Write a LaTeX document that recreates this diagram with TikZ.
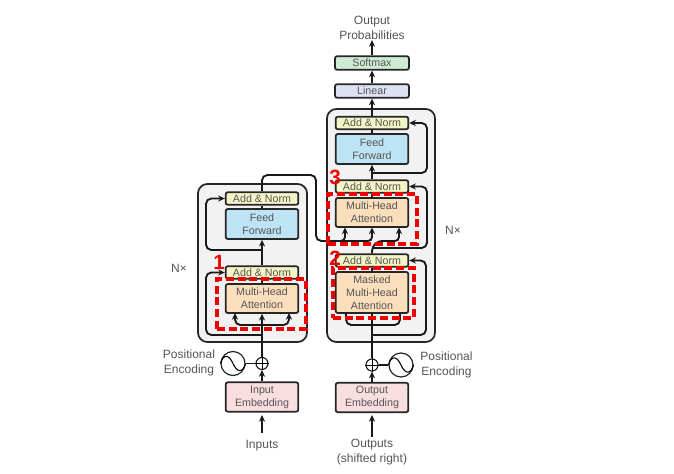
\documentclass[tikz,border=0pt]{standalone}
\usepackage{fontspec}
\setmainfont{Liberation Sans}
\usetikzlibrary{arrows.meta}
\definecolor{txt}{HTML}{555555}
\definecolor{normc}{HTML}{F4F5C6}
\definecolor{ffc}{HTML}{BEE3F4}
\definecolor{mhac}{HTML}{FBDFBC}
\definecolor{embc}{HTML}{F9DEE0}
\definecolor{softc}{HTML}{CFEBD5}
\definecolor{linc}{HTML}{DEE0F3}
\definecolor{outerc}{HTML}{F2F2F2}
\definecolor{marker}{HTML}{F00000}
\tikzset{
  blockbox/.style={draw=black!85,line width=1.3pt,rounded corners=1.6pt,inner sep=0pt,text=txt,align=center,font=\fontsize{8}{9.8}\selectfont,minimum width=54.5pt},
  normbox/.style={blockbox,fill=normc,minimum height=9.4pt},
  ffbox/.style={blockbox,fill=ffc,minimum height=22.5pt},
  mhabox/.style={blockbox,fill=mhac,minimum height=21.75pt},
  mmhabox/.style={blockbox,fill=mhac,minimum height=30.75pt},
  embbox/.style={blockbox,fill=embc,minimum height=22pt},
  softbox/.style={blockbox,fill=softc,minimum height=10.2pt,minimum width=55.5pt},
  linbox/.style={blockbox,fill=linc,minimum height=10.2pt,minimum width=55.5pt},
  outerbox/.style={draw=black!85,line width=1.3pt,fill=outerc,rounded corners=7pt,inner sep=0pt},
  label/.style={text=txt,align=center,font=\fontsize{9}{11.4}\selectfont,inner sep=0pt},
  conn/.style={draw=black!90,line width=1.4pt,rounded corners=4pt},
  arr/.style={conn,-{Stealth[length=5pt,width=4.6pt]}},
  redbox/.style={draw=marker,line width=2.3pt,dash pattern=on 6pt off 2.8pt},
  rednum/.style={text=marker,font=\fontsize{15.5}{16}\selectfont\bfseries,inner sep=0pt},
  addc/.style={circle,draw=black!85,line width=.9pt,minimum size=9pt,inner sep=0pt},
  posc/.style={circle,draw=black!85,line width=.9pt,minimum size=18pt,inner sep=0pt},
}
\begin{document}
\begin{tikzpicture}[x=0.75pt,y=-0.75pt]
\useasboundingbox (0,0) rectangle (674,474);
\fill[white] (0,0) rectangle (674,474);
% stacks
\node[outerbox,minimum width=81.75pt,minimum height=118.5pt] (encstack) at (252.5,263) {};
\node[outerbox,minimum width=81pt,minimum height=174.75pt] (decstack) at (381,225.5) {};
% encoder blocks
\node[normbox] (en2) at (262,198.5) {Add \& Norm};
\node[ffbox] (eff) at (262,224) {Feed\\Forward};
\node[normbox] (en1) at (262,272.5) {Add \& Norm};
\node[mhabox] (emha) at (262,298.5) {Multi-Head\\Attention};
\node[embbox] (eemb) at (262,397) {Input\\Embedding};
% decoder blocks
\node[normbox] (dn3) at (372,123) {Add \& Norm};
\node[ffbox] (dff) at (372,149) {Feed\\Forward};
\node[normbox] (dn2) at (372,186.5) {Add \& Norm};
\node[mhabox] (dmha) at (372,212.5) {Multi-Head\\Attention};
\node[normbox] (dn1) at (372,260.5) {Add \& Norm};
\node[mmhabox] (dmm) at (372,292.5) {Masked\\Multi-Head\\Attention};
\node[embbox] (demb) at (372,397.5) {Output\\Embedding};
\node[linbox] (lin) at (372,91) {Linear};
\node[softbox] (soft) at (372,63) {Softmax};
% labels
\node[label] (outprob) at (372,28) {Output\\Probabilities};
\node[label] (inp) at (262,445.5) {Inputs};
\node[label] (outp) at (372,452) {Outputs\\(shifted right)};
\node[label] (nxe) at (179,268) {N×};
\node[label] (nxd) at (453,230) {N×};
\node[label] (pe) at (189,363) {Positional\\Encoding};
\node[label] (pd) at (446.5,365) {Positional\\Encoding};
% positional encoding
\node[addc] (eadd) at (262,363.5) {};
\draw[line width=.7pt] (eadd.west)--(eadd.east) (eadd.north)--(eadd.south);
\node[posc] (epos) at (233,363.5) {};
\draw[line width=.8pt] (epos.west) .. controls +(3,-10) and +(-4,-9) .. (epos.center) .. controls +(4,9) and +(-3,10) .. (epos.east);
\node[addc] (dadd) at (372,365) {};
\draw[line width=.7pt] (dadd.west)--(dadd.east) (dadd.north)--(dadd.south);
\node[posc] (dpos) at (401,365) {};
\draw[line width=.8pt] (dpos.west) .. controls +(3,-10) and +(-4,-9) .. (dpos.center) .. controls +(4,9) and +(-3,10) .. (dpos.east);
\draw[conn] (epos)--(eadd);
\draw[conn] (dpos)--(dadd);
% encoder connectors
\coordinate (ein) at (262,433);
\draw[arr] (ein)--(262,415);
\draw[arr] (eemb.north)--(eadd.south);
\draw[arr] (eadd.north)--(emha.south);
\draw[conn] (emha.north)--(en1.south);
\draw[arr] (en1.north)--(eff.south);
\draw[conn] (eff.north)--(en2.south);
\coordinate (ea) at (262,335);
\coordinate (eb) at (206,335);
\draw[arr] (ea)--(eb)--(eb|-en1.west)--(en1.west);
\coordinate (ec) at (262,250);
\coordinate (ed) at (206,250);
\draw[arr] (ec)--(ed)--(ed|-en2.west)--(en2.west);
\coordinate (ee) at (235,325);
\coordinate (ef) at (289,325);
\draw[conn,{Stealth[length=5pt,width=4.6pt]}-{Stealth[length=5pt,width=4.6pt]}] (235,313)--(ee)--(ef)--(289,313);
% encoder to decoder
\coordinate (t1) at (262,175);
\coordinate (t2) at (316,175);
\coordinate (t3) at (316,241);
\coordinate (t4) at (345,241);
\coordinate (t5) at (372,241);
\draw[conn] (en2.north)--(t1)--(t2)--(t3)--(t4);
\draw[arr,rounded corners=3pt] (338,241)--(t4)--(345,227.5);
\draw[arr,rounded corners=3pt] (t4)--(t5)--(372,227.5);
% decoder connectors
\coordinate (din) at (372,437);
\draw[arr] (din)--(372,415);
\draw[arr] (demb.north)--(dadd.south);
\draw[conn] (dadd.north)--(dmm.south);
\draw[conn] (dmm.north)--(dn1.south);
\coordinate (g1) at (378,241);
\coordinate (g2) at (399,241);
\draw[arr,rounded corners=3pt] (dn1.north)--(372,247)--(g1)--(g2)--(399,227.5);
\draw[conn] (dmha.north)--(dn2.south);
\draw[arr] (dn2.north)--(dff.south);
\draw[conn] (dff.north)--(dn3.south);
\draw[arr] (dn3.north)--(lin.south);
\draw[arr] (lin.north)--(soft.south);
\draw[arr] (soft.north)--(outprob.south);
\coordinate (h1) at (372,335);
\coordinate (h2) at (426,335);
\draw[arr] (h1)--(h2)--(h2|-dn1.east)--(dn1.east);
\coordinate (i1) at (372,248);
\coordinate (i2) at (427,248);
\draw[arr] (i1)--(i2)--(i2|-dn2.east)--(dn2.east);
\coordinate (j1) at (372,173);
\coordinate (j2) at (427,173);
\draw[arr] (j1)--(j2)--(j2|-dn3.east)--(dn3.east);
\draw[conn] (346,313)--(346,325)--(400,325)--(400,313);
% red highlights
\node[redbox,minimum width=66.75pt,minimum height=37.5pt,inner sep=0pt] (r1) at (261.5,304) {};
\node[redbox,minimum width=66.75pt,minimum height=37.5pt,inner sep=0pt] (r3) at (372.5,219) {};
\node[redbox,minimum width=60.75pt,minimum height=37.5pt,inner sep=0pt] (r2) at (373.5,293) {};
\node[rednum] (n1) at (219,262) {1};
\node[rednum] (n3) at (335,177) {3};
\node[rednum] (n2) at (335,258) {2};
\end{tikzpicture}
\end{document}
